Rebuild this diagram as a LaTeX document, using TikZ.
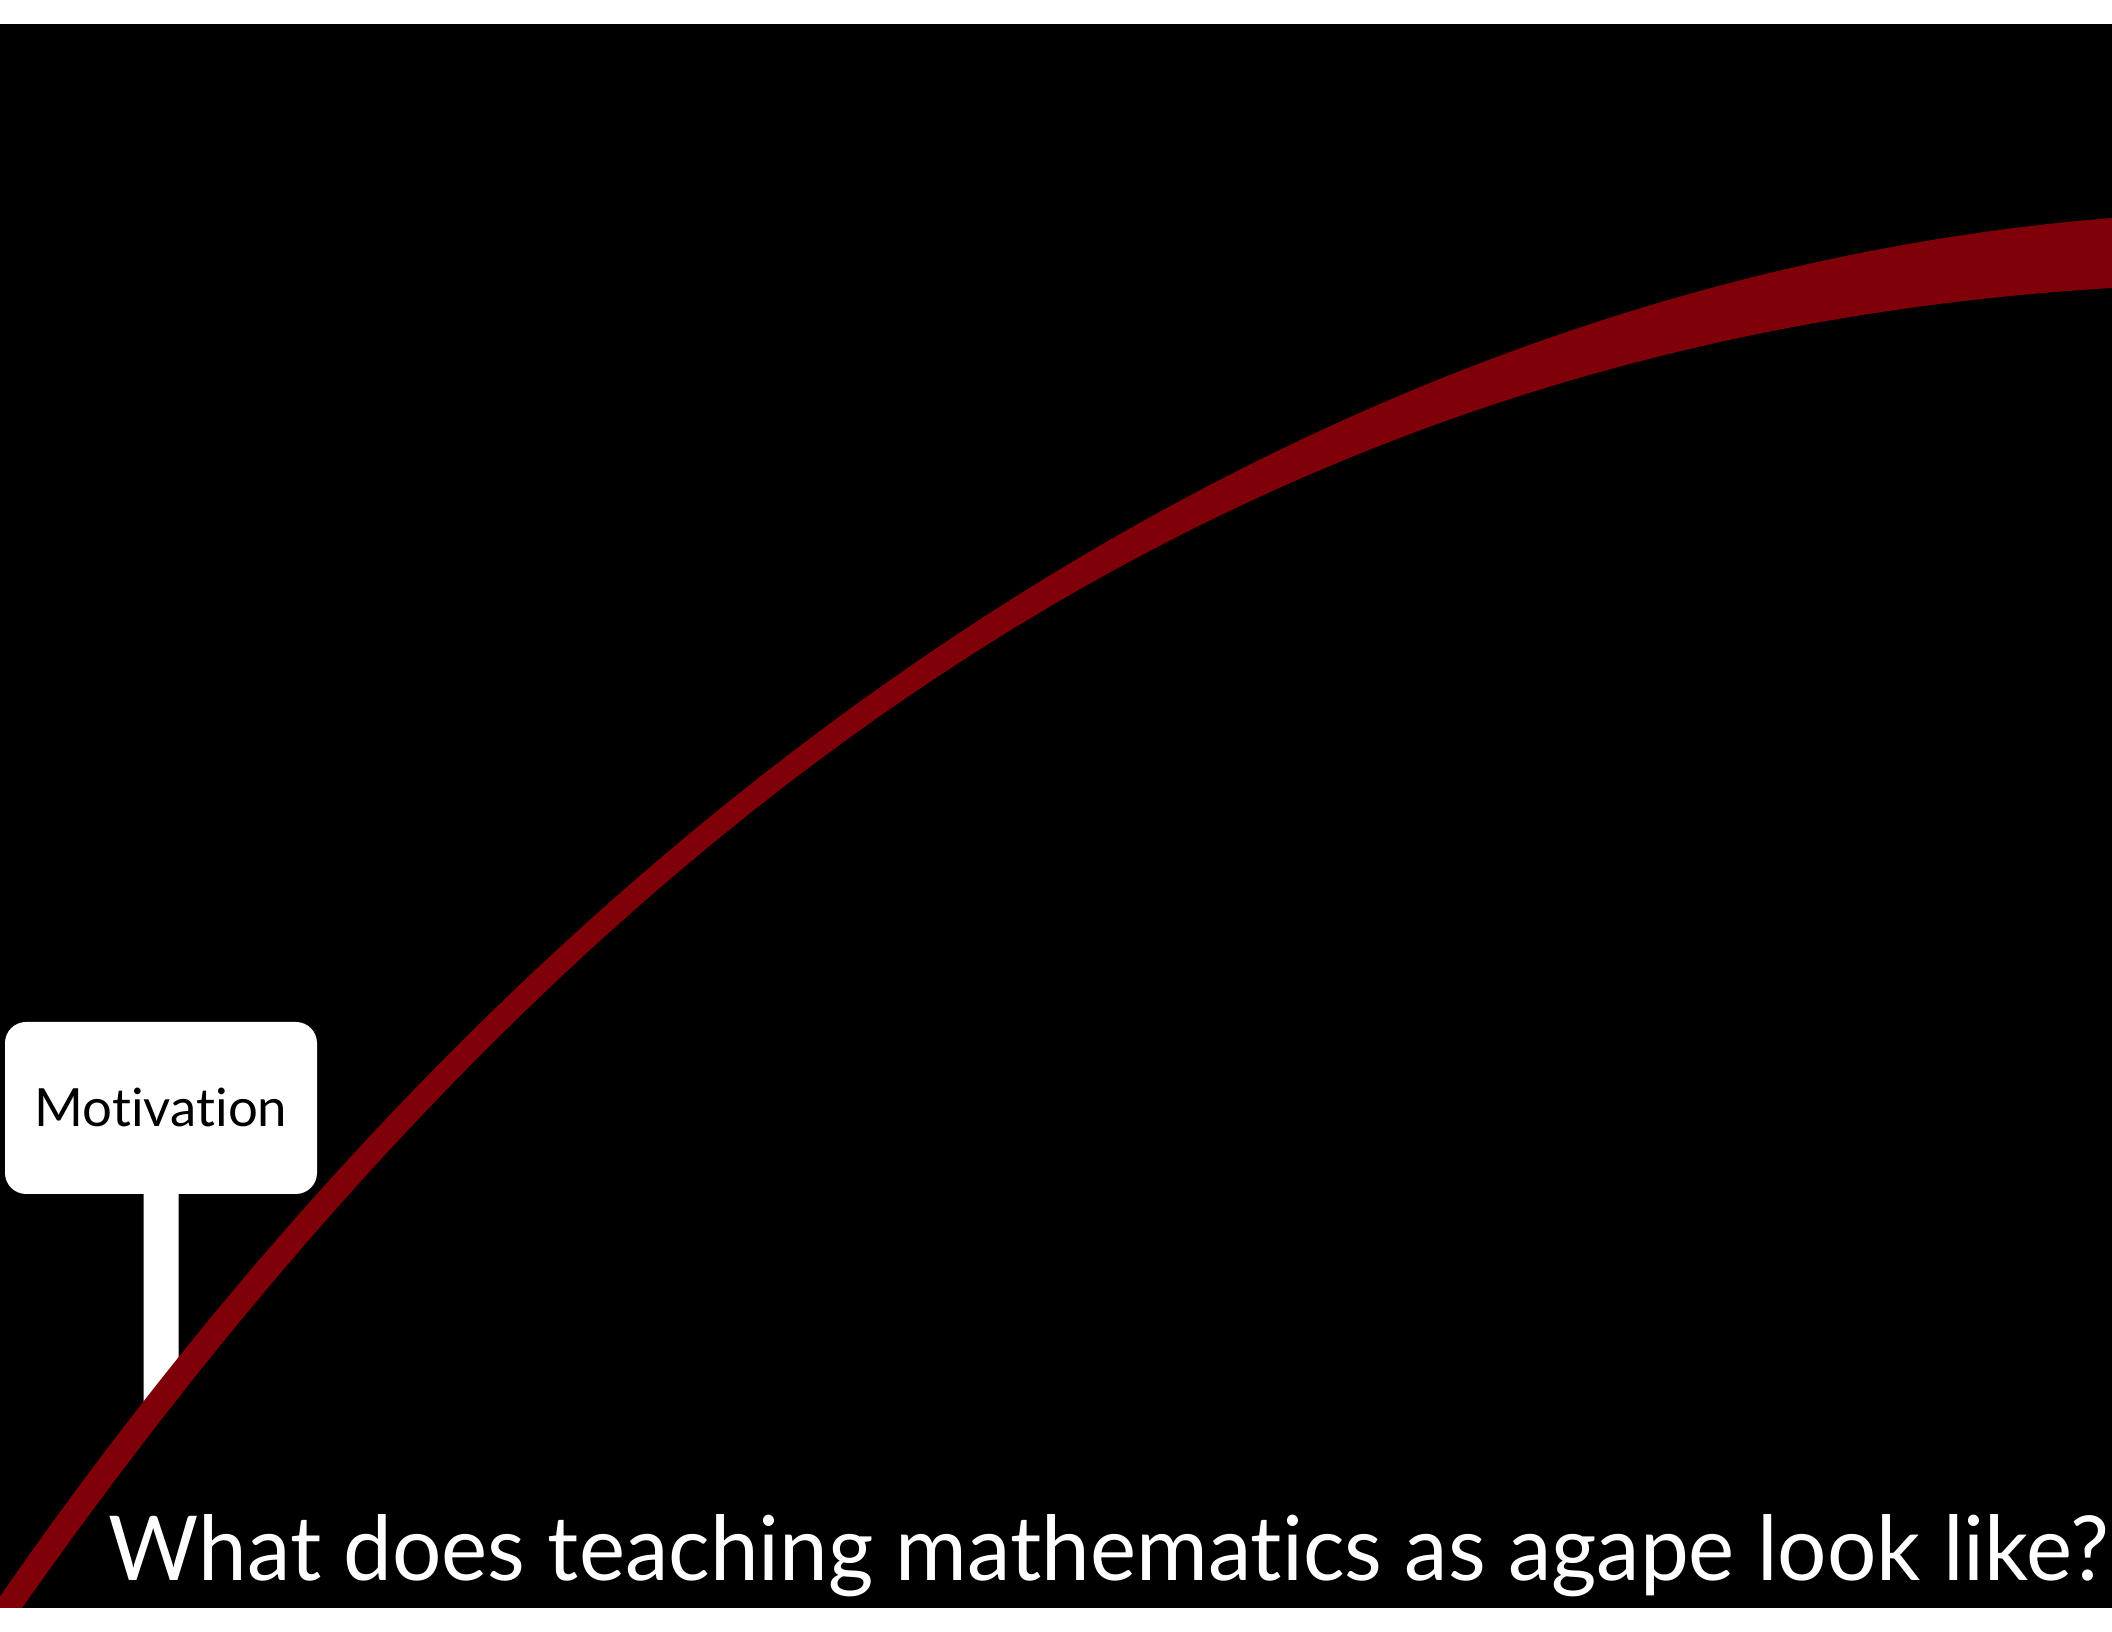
\documentclass[tikz,border=0pt]{standalone}
\usepackage{fontspec}
\setmainfont[Ligatures=NoCommon]{Lato}
\usepackage{xcolor}
\usetikzlibrary{calc}
\definecolor{slide}{HTML}{000000}
\definecolor{wine}{HTML}{7F0008}
\tikzset{
  sign/.style={fill=white,rounded corners=6pt,minimum width=3.12cm,minimum height=1.72cm,inner sep=0pt,font=\fontsize{15}{18}\selectfont,text=black},
  post/.style={fill=white},
  band/.style={fill=wine},
  question/.style={text=white,anchor=base west,inner sep=0pt},
}
\begin{document}
\begin{tikzpicture}
  \useasboundingbox[fill=white] (0,0) rectangle (21.12,16.32);
  \fill[slide] (0,0.24) rectangle (21.12,16.08);
  \node[sign] (sign) at (1.61,5.24) {Motivation};
  \fill[post] ($(sign.south)+(-0.175,0.05)$) -- ++(0,-2.28) -- ++(0.35,0.45) -- ++(0,1.83) -- cycle;
  \begin{scope}
    \clip (0,0.24) rectangle (21.12,16.08);
    % upper edge, then lower edge back
    \fill[band] (-0.08,0.24) .. controls (5.92,8.94) and (13.62,13.54) .. (21.12,14.14)
      -- (21.12,13.44) .. controls (13.62,12.99) and (6.72,9.47) .. (0.22,0.24) -- cycle;
  \end{scope}
  \node[question] (title) at (1.08,0.51) {\resizebox{20cm}{0.66cm}{What does teaching mathematics as agape look like?}};
\end{tikzpicture}
\end{document}
